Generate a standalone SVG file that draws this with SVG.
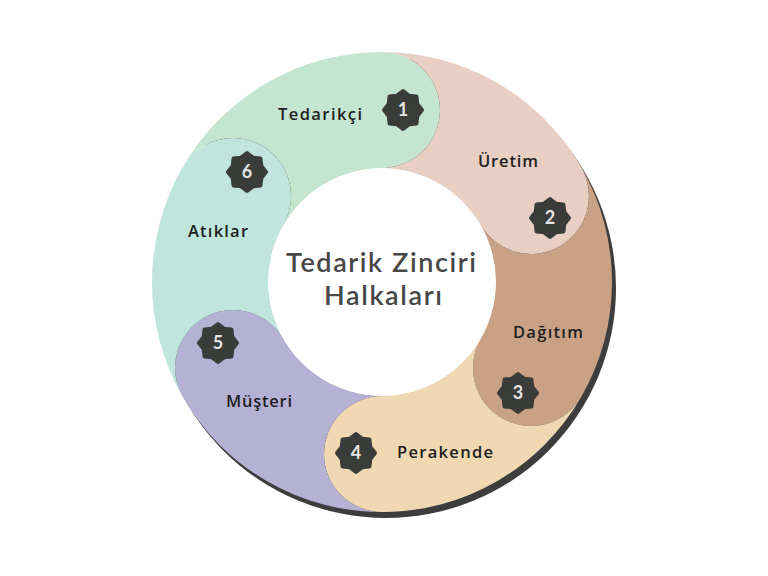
<svg xmlns="http://www.w3.org/2000/svg" width="768" height="576" viewBox="0 0 768 576">
  <style>
    .lbl { font-family: "Open Sans", "Lato", "DejaVu Sans", sans-serif; font-size: 16.5px; font-weight: 600; fill: #1e1e1e; text-anchor: middle; }
    .num { font-family: "Lato", "DejaVu Sans", sans-serif; font-size: 18px; font-weight: 700; fill: #e4e4e4; text-anchor: middle; }
    .title { font-family: "Lato", "Open Sans", "DejaVu Sans", sans-serif; font-size: 27px; font-weight: 600; fill: #474747; text-anchor: middle; }
    .badge { fill: #3a3c3a; stroke: #3a3c3a; stroke-width: 4; stroke-linejoin: round; }
  </style>
  <defs>
    <polygon id="star" points="19,0 14.32,5.93 13.44,13.44 5.93,14.32 0,19 -5.93,14.32 -13.44,13.44 -14.32,5.93 -19,0 -14.32,-5.93 -13.44,-13.44 -5.93,-14.32 0,-19 5.93,-14.32 13.44,-13.44 14.32,-5.93"/>
  </defs>
  <rect width="768" height="576" fill="#ffffff"/>
  <circle id="shadow" cx="386" cy="288" r="230" fill="#3d3d3d"/>
  <circle cx="382" cy="282" r="114.5" fill="#ffffff"/>

  <g id="node-tedarikci">
    <path d="M182.81,167 A230,230 0 0 1 382,52 A58,58 0 0 1 382,168 A114,114 0 0 0 283.27,225 A58,58 0 0 0 182.81,167 Z" fill="#c4e6d0"/>
    <text class="lbl" x="320" y="120" textLength="84" lengthAdjust="spacing">Tedarikçi</text>
    <use href="#star" class="badge" x="403" y="110"/>
    <text class="num" x="403" y="116">1</text>
  </g>

  <g id="node-uretim">
    <path d="M382,52 A230,230 0 0 1 581.19,167 A58,58 0 0 1 480.73,225 A114,114 0 0 0 382,168 A58,58 0 0 0 382,52 Z" fill="#e9cfc3"/>
    <text class="lbl" x="508" y="167" textLength="60" lengthAdjust="spacing">Üretim</text>
    <use href="#star" class="badge" x="550" y="218"/>
    <text class="num" x="550" y="224">2</text>
  </g>

  <g id="node-dagitim">
    <path d="M581.19,167 A230,230 0 0 1 581.19,397 A58,58 0 0 1 480.73,339 A114,114 0 0 0 480.73,225 A58,58 0 0 0 581.19,167 Z" fill="#c9a285"/>
    <text class="lbl" x="548" y="338" textLength="70" lengthAdjust="spacing">Dağıtım</text>
    <use href="#star" class="badge" x="518" y="393"/>
    <text class="num" x="518" y="399">3</text>
  </g>

  <g id="node-perakende">
    <path d="M581.19,397 A230,230 0 0 1 382,512 A58,58 0 0 1 382,396 A114,114 0 0 0 480.73,339 A58,58 0 0 0 581.19,397 Z" fill="#f0d8b2"/>
    <text class="lbl" x="445" y="458" textLength="96" lengthAdjust="spacing">Perakende</text>
    <use href="#star" class="badge" x="356" y="453"/>
    <text class="num" x="356" y="459">4</text>
  </g>

  <g id="node-musteri">
    <path d="M382,512 A230,230 0 0 1 182.81,397 A58,58 0 0 1 283.27,339 A114,114 0 0 0 382,396 A58,58 0 0 0 382,512 Z" fill="#b4b1d4"/>
    <text class="lbl" x="259" y="407" textLength="66" lengthAdjust="spacing">Müşteri</text>
    <use href="#star" class="badge" x="218" y="343"/>
    <text class="num" x="218" y="349">5</text>
  </g>

  <g id="node-atiklar">
    <path d="M182.81,397 A230,230 0 0 1 182.81,167 A58,58 0 0 1 283.27,225 A114,114 0 0 0 283.27,339 A58,58 0 0 0 182.81,397 Z" fill="#bfe5dc"/>
    <text class="lbl" x="218" y="237" textLength="60" lengthAdjust="spacing">Atıklar</text>
    <use href="#star" class="badge" x="247" y="172"/>
    <text class="num" x="247" y="178">6</text>
  </g>

  <g id="center">
    <text class="title" x="381" y="272" textLength="190" lengthAdjust="spacing">Tedarik Zinciri</text>
    <text class="title" x="383" y="305" textLength="118" lengthAdjust="spacing">Halkaları</text>
  </g>
</svg>
